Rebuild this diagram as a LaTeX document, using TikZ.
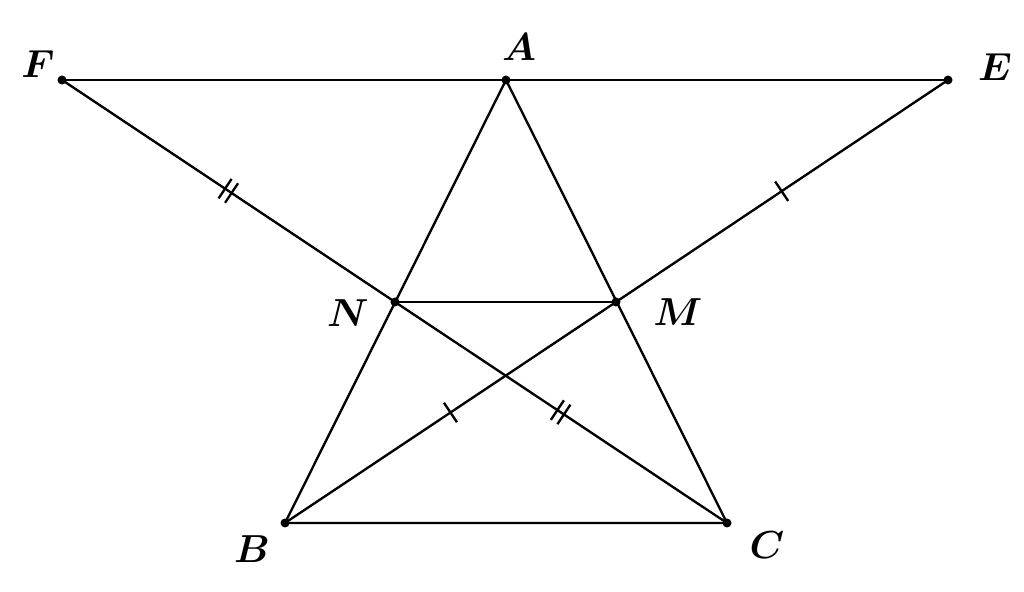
\documentclass[tikz,border=0pt]{standalone}
\usetikzlibrary{decorations.markings}
\begin{document}
\begin{tikzpicture}[x=0.256pt,y=-0.256pt,line width=0.6pt,
  pt/.style={circle,fill=black,inner sep=0pt,minimum size=2.3pt},
  lbl/.style={font=\boldmath},
  onetick/.style={postaction={decorate},decoration={markings,
     mark=at position 0.5 with {\draw[line width=0.6pt] (0,-3pt)--(0,3pt);}}},
  twotick/.style={postaction={decorate},decoration={markings,
     mark=at position 0.5 with {\draw[line width=0.6pt] (-1pt,-3pt)--(-1pt,3pt) (1pt,-3pt)--(1pt,3pt);}}}]
\useasboundingbox (0,0) rectangle (1024,592);
\coordinate (F) at (62,80);
\coordinate (A) at (506,80);
\coordinate (E) at (948,80);
\coordinate (N) at (395,302);
\coordinate (M) at (616,302);
\coordinate (B) at (285,523);
\coordinate (C) at (727,523);
\draw (F) -- (E);
\draw (A) -- (B) -- (C) -- cycle;
\draw (N) -- (M);
\draw[twotick] (F) -- (N);
\draw[twotick] (N) -- (C);
\draw[onetick] (B) -- (M);
\draw[onetick] (M) -- (E);
\foreach \p in {F,A,E,N,M,B,C} \node[pt] (d\p) at (\p) {};
\node[lbl] (lF) at (38,64) {$F$};
\node[lbl] (lA) at (519,47) {$A$};
\node[lbl] (lE) at (995,67) {$E$};
\node[lbl] (lN) at (348,313) {$N$};
\node[lbl] (lM) at (678,312) {$M$};
\node[lbl] (lB) at (252,549) {$B$};
\node[lbl] (lC) at (767,545) {$C$};
\end{tikzpicture}
\end{document}
